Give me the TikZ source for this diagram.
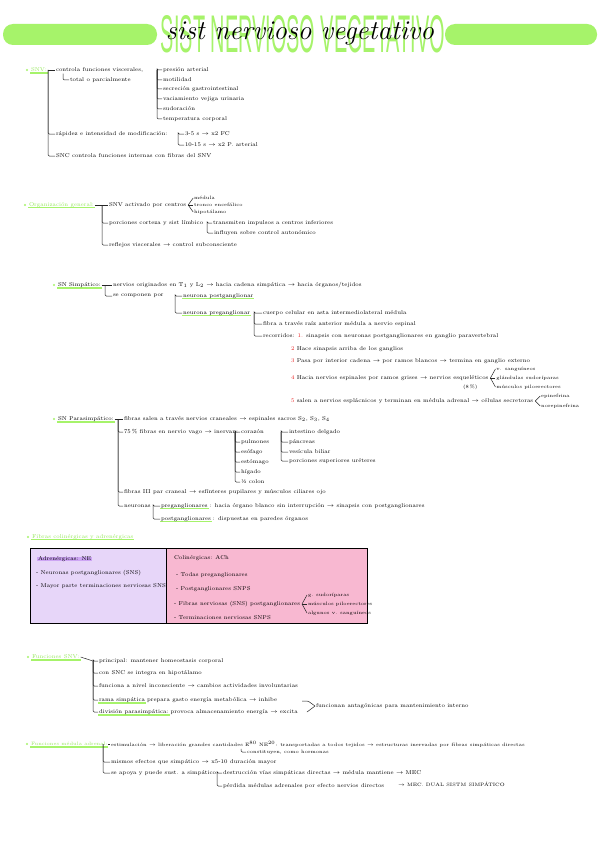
\documentclass[tikz,border=0pt]{standalone}
\usepackage{fontspec}
\usepackage{tikz}
\usetikzlibrary{positioning,calc,backgrounds}
\newfontfamily\titlefont{Liberation Sans}
\definecolor{limegreen}{RGB}{166,243,106}
\definecolor{headgreen}{RGB}{150,232,92}
\definecolor{boxlilac}{RGB}{231,214,249}
\definecolor{boxpink}{RGB}{248,184,209}
\definecolor{hlpurple}{RGB}{205,165,244}
\definecolor{numred}{RGB}{235,35,35}
\newcommand{\rednum}[1]{\textcolor{numred}{#1}}
\tikzset{
  note/.style={anchor=west,inner sep=0.8pt,font=\fontsize{5.6}{6.5}\selectfont},
  small/.style={note,font=\fontsize{4.8}{5.5}\selectfont},
  tight/.style={note,font=\fontsize{4.8}{5.5}\selectfont},
  headtxt/.style={note,text=headgreen},
  dot/.style={circle,fill=limegreen,inner sep=0pt,minimum size=2.4pt},
  twig/.style={draw=black!85,line width=0.5pt,rounded corners=1.2pt},
  hlline/.style={draw=limegreen,line width=1.8pt},
}

\begin{document}
\begin{tikzpicture}[x=1pt,y=-1pt]
\useasboundingbox (0,0) rectangle (600,848);
% title
\fill[limegreen,rounded corners=10pt] (3,24) rectangle (157,45);
\fill[limegreen,rounded corners=10pt] (445,24) rectangle (597,45);
\node[inner sep=0pt,text=limegreen] (tgreen) at (303,34) {\resizebox{284pt}{37pt}{\titlefont SIST NERVIOSO VEGETATIVO}};
\node[inner sep=0pt,anchor=base] (tink) at (300,40) {\resizebox{268pt}{!}{\fontsize{22}{22}\selectfont\itshape sist nervioso vegetativo}};

% SNV
\node[dot] (b1) at (27,70) {};
\node[headtxt] (snv) at (30,70) {SNV:};
\coordinate (k1) at (48,70);
\node[note] (c1) at (55,70) {controla funciones viscerales,};
\node[note] (c1s) at (69,80) {total o parcialmente};
\node[note] (c2) at (55,134) {rápidez e intensidad de modificación:};
\node[note] (c3) at (55,156) {SNC controla funciones internas con fibras del SNV};
\draw[twig] (snv.east) -- (c1.west);
\foreach \n in {c2,c3} \draw[twig] (k1) |- (\n.west);
\draw[twig] ([xshift=8pt]c1.south west) |- (c1s.west);
% funciones viscerales
\coordinate (k1b) at (157,70);
\node[note] (v1) at (162,70) {presión arterial};
\node[note] (v2) at (162,80) {motilidad};
\node[note] (v3) at (162,89) {secreción gastrointestinal};
\node[note] (v4) at (162,99) {vaciamiento vejiga urinaria};
\node[note] (v5) at (162,109) {sudoración};
\node[note] (v6) at (162,119) {temperatura corporal};
\foreach \n in {v1,v2,v3,v4,v5,v6} \draw[twig] (k1b) |- (\n.west);
% tiempos
\coordinate (k1c) at (178,134);
\node[note] (t1) at (184,134) {3-5 s $\to$ x2 FC};
\node[note] (t2) at (184,145) {10-15 s $\to$ x2 P. arterial};
\foreach \n in {t1,t2} \draw[twig] (k1c) |- (\n.west);

% organizacion general
\node[dot] (b2) at (25,205) {};
\node[headtxt] (org) at (28,205) {Organización general:};
\coordinate (k2) at (102,205);
\node[note] (o1) at (108,205) {SNV activado por centros};
\node[note] (o2) at (108,223) {porciones corteza y sist límbico};
\node[note] (o3) at (108,245) {reflejos viscerales $\to$ control subconsciente};
\draw[twig] (org.east) -- (o1.west);
\foreach \n in {o2,o3} \draw[twig] (k2) |- (\n.west);
\coordinate[right=1pt of o1] (fk2);
\node[small,right=6pt of o1,yshift=7pt] (o1a) {médula};
\node[small,right=6pt of o1] (o1b) {tronco encefálico};
\node[small,right=6pt of o1,yshift=-7pt] (o1c) {hipotálamo};
\foreach \n in {o1a,o1b,o1c} \draw[twig] (fk2) -- (\n.west);
\coordinate (k2b) at (207,223);
\node[note] (o2a) at (212,223) {transmiten impulsos a centros inferiores};
\node[note] (o2b) at (213,233) {influyen sobre control autonómico};
\foreach \n in {o2a,o2b} \draw[twig] (k2b) |- (\n.west);

% SN simpatico
\node[dot] (b3) at (54,285) {};
\node[note] (simp) at (57,285) {SN Simpático:};
\coordinate (k3) at (105,285);
\node[note] (p1) at (112,285) {nervios originados en T$_1$ y L$_2$ $\to$ hacia cadena simpática $\to$ hacia órganos/tejidos};
\node[note] (p2) at (112,296) {se componen por};
\draw[twig] (simp.east) -- (p1.west);
\draw[twig] (k3) |- (p2.west);
\coordinate (k3b) at (175,296);
\node[note] (p2a) at (182,296) {neurona postganglionar};
\node[note] (p2b) at (182,313) {neurona preganglionar};
\foreach \n in {p2a,p2b} \draw[twig] (k3b) |- (\n.west);
\coordinate (k3c) at (254,313);
\node[note] (q1) at (262,313) {cuerpo celular en asta intermediolateral médula};
\node[note] (q2) at (262,324) {fibra a través raíz anterior médula a nervio espinal};
\node[note] (q3) at (262,336) {recorridos: \rednum{1.} sinapsis con neuronas postganglionares en ganglio paravertebral};
\foreach \n in {q1,q2,q3} \draw[twig] (k3c) |- (\n.west);
\node[note] (q4) at (290,349) {\rednum{2} Hace sinapsis arriba de los ganglios};
\node[note] (q5) at (290,361) {\rednum{3} Pasa por interior cadena $\to$ por ramos blancos $\to$ termina en ganglio externo};
\node[note] (q6) at (290,378) {\rednum{4} Hacia nervios espinales por ramos grises $\to$ nervios esqueléticos};
\node[small] (q6p) at (462,387) {(8\,\%)};
\coordinate[right=1pt of q6] (fk6);
\node[small,right=6pt of q6,yshift=9pt] (e1) {v. sanguíneos};
\node[small,right=6pt of q6] (e2) {glándulas sudoríparas};
\node[small,right=6pt of q6,yshift=-9pt] (e3) {músculos piloerectores};
\foreach \n in {e1,e2,e3} \draw[twig] (fk6) -- (\n.west);
\node[note] (q7) at (290,401) {\rednum{5} salen a nervios esplácnicos y terminan en médula adrenal $\to$ células secretoras};
\coordinate[right=1pt of q7] (fk7);
\node[small,right=6pt of q7,yshift=5pt] (h1) {epinefrina};
\node[small,right=6pt of q7,yshift=-5pt] (h2) {norepinefrina};
\foreach \n in {h1,h2} \draw[twig] (fk7) -- (\n.west);

% SN parasimpatico
\node[dot] (b4) at (54,419) {};
\node[note] (para) at (57,419) {SN Parasimpático:};
\coordinate (k4) at (118,419);
\node[note] (r1) at (123,419) {fibras salen a través nervios craneales $\to$ espinales sacros S$_2$, S$_3$, S$_4$};
\node[note] (r2) at (123,432) {75\,\% fibras en nervio vago $\to$ inervan:};
\node[note] (r3) at (123,492) {fibras III par craneal $\to$ esfínteres pupilares y músculos ciliares ojo};
\node[note] (r4) at (123,506) {neuronas};
\draw[twig] (para.east) -- (r1.west);
\foreach \n in {r2,r3,r4} \draw[twig] (k4) |- (\n.west);
\coordinate (k4b) at (235,432);
\node[note] (g1) at (240,432) {corazón};
\node[note] (g2) at (240,442) {pulmones};
\node[note] (g3) at (240,452) {esófago};
\node[note] (g4) at (240,462) {estómago};
\node[note] (g5) at (240,472) {hígado};
\node[note] (g6) at (240,482) {\textonehalf\ colon};
\foreach \n in {g1,g2,g3,g4,g5,g6} \draw[twig] (k4b) |- (\n.west);
\coordinate (k4c) at (281,432);
\node[note] (i1) at (288,432) {intestino delgado};
\node[note] (i2) at (288,442) {páncreas};
\node[note] (i3) at (288,452) {vesícula biliar};
\node[note] (i4) at (288,461) {porciones superiores uréteres};
\foreach \n in {i1,i2,i3,i4} \draw[twig] (k4c) |- (\n.west);
\coordinate (k4d) at (153,506);
\node[note] (n1) at (160,506) {preganglionares};
\node[note,right=0pt of n1] (n1t) {: hacia órgano blanco sin interrupción $\to$ sinapsis con postganglionares};
\node[note] (n2) at (160,519) {postganglionares};
\node[note,right=0pt of n2] (n2t) {: dispuestas en paredes órganos};
\foreach \n in {n1,n2} \draw[twig] (k4d) |- (\n.west);

% fibras colinergicas y adrenergicas
\node[dot] (b5) at (28,537) {};
\node[headtxt] (fib) at (31,537) {Fibras colinérgicas y adrenérgicas};
\draw[line width=0.7pt] (30,548) rectangle (367,623);
\draw[line width=0.7pt] (166,548) -- (166,623);
\node[note] (adr) at (37,559) {Adrenérgicas: NE};
\node[note] (a1) at (35,573) {- Neuronas postganglionares (SNS)};
\node[note] (a2) at (35,586) {- Mayor parte terminaciones nerviosas SNS};
\node[note] (col) at (173,558) {Colinérgicas: ACh};
\node[note] (w1) at (175,575) {- Todas preganglionares};
\node[note] (w2) at (175,589) {- Postganglionares SNPS};
\node[note] (w3) at (173,604) {- Fibras nerviosas (SNS) postganglionares};
\node[note] (w4) at (173,618) {- Terminaciones nerviosas SNPS};
\coordinate[right=1pt of w3] (fkw);
\node[small,right=6pt of w3,yshift=9pt] (x1) {g. sudoríparas};
\node[small,right=6pt of w3] (x2) {músculos piloerectores};
\node[small,right=6pt of w3,yshift=-9pt] (x3) {algunos v. sanguíneos};
\foreach \n in {x1,x2,x3} \draw[twig] (fkw) -- (\n.west);

% funciones SNV
\node[dot] (b6) at (28,657) {};
\node[headtxt] (fun) at (31,657) {Funciones SNV:};
\coordinate (k6) at (93,661);
\node[note] (f1) at (98,661) {principal: mantener homeostasis corporal};
\node[note] (f2) at (98,673) {con SNC se integra en hipotálamo};
\node[note] (f3) at (98,686) {funciona a nivel inconsciente $\to$ cambios actividades involuntarias};
\node[note] (f4a) at (98,700) {rama simpática};
\node[note,right=0pt of f4a] (f4b) {prepara gasto energía metabólica $\to$ inhibe};
\node[note] (f5a) at (98,712) {división parasimpática:};
\node[note,right=0pt of f5a] (f5b) {provoca almacenamiento energía $\to$ excita};
\draw[twig] (fun.east) -- (k6);
\foreach \n in {f1,f2,f3,f4a,f5a} \draw[twig] (k6) |- (\n.west);
\node[note] (ant) at (315,706) {funcionan antagónicas para mantenimiento interno};
\coordinate (j1) at ($(ant.west)+(-13,-5)$);
\coordinate (j2) at ($(ant.west)+(-8,6)$);
\draw[twig] (j1) -- ++(6,0) -- (ant.west);
\draw[twig] (j2) -- (ant.west);

% funciones medula adrenal
\node[dot] (b7) at (27,744) {};
\node[headtxt,tight,text=headgreen] (med) at (30,744) {Funciones médula adrenal:};
\coordinate (k7) at (103,744);
\node[tight] (m1) at (110,744) {estimulación $\to$ liberación grandes cantidades E$^{80}$ NE$^{20}$: transportadas a todos tejidos $\to$ estructuras inervadas por fibras simpáticas directas};
\node[small] (m1s) at (246,752) {constituyen, como hormonas};
\node[note] (m2) at (110,762) {mismos efectos que simpático $\to$ x5-10 duración mayor};
\node[note] (m3) at (110,773) {se apoya y puede sust. a simpático:};
\draw[twig] (med.east) -- (m1.west);
\foreach \n in {m2,m3} \draw[twig] (k7) |- (\n.west);
\draw[twig] ([xshift=-5pt]m1s.north west) |- (m1s.west);
\coordinate (k7b) at (217,773);
\node[note] (m3a) at (222,773) {destrucción vías simpáticas directas $\to$ médula mantiene $\to$ MEC};
\node[note] (m3b) at (222,786) {pérdida médulas adrenales por efecto nervios directos};
\foreach \n in {m3a,m3b} \draw[twig] (k7b) |- (\n.west);
\node[small] (dual) at (397,784) {$\to$ MEC. DUAL SISTM SIMPÁTICO};

% highlights
\begin{scope}[on background layer]
\fill[white] (0,0) rectangle (600,848);
\fill[boxlilac] (30,548) rectangle (166,623);
\fill[boxpink] (166,548) rectangle (367,623);
\foreach \n in {snv,org,simp,para,p2a,p2b,n1,n2,fib,fun,f4a,f5a,med}
  \draw[hlline] ([yshift=-1.2pt]\n.base west) -- ([yshift=-1.2pt]\n.base east);
\draw[hlpurple,line width=4pt] ([yshift=1.2pt]adr.base west) -- ([yshift=1.2pt]adr.base east);
\end{scope}
\end{tikzpicture}
\end{document}
